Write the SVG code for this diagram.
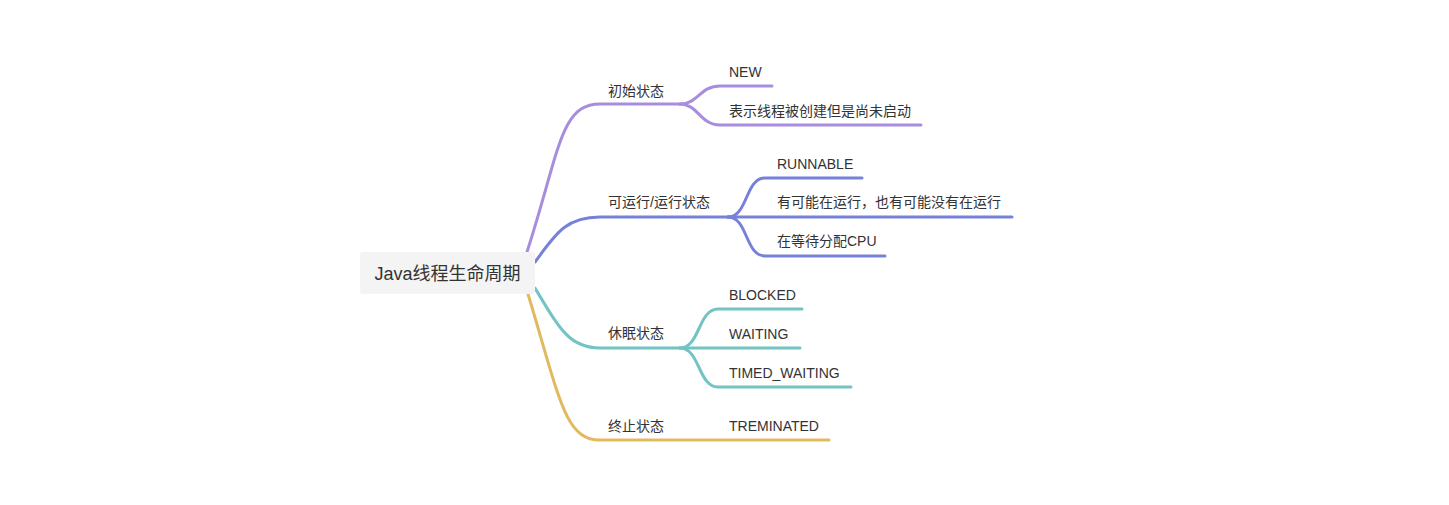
<svg xmlns="http://www.w3.org/2000/svg" width="1449" height="505" viewBox="0 0 1449 505">
<style>
text{font-family:"Liberation Sans","Noto Sans CJK SC",sans-serif;font-size:14px;fill:#333}
.root{font-size:18px}
path{fill:none;stroke-width:3;stroke-linecap:round}
.p{stroke:#a88ddf}
.b{stroke:#7781d9}
.t{stroke:#72c4c4}
.g{stroke:#e1b95f}
</style>
<rect width="1449" height="505" fill="#fff"/>
<g id="connectors">
<path class="p" d="M527 252 C560 150 560 104 600 104 L680 104"/>
<path class="p" d="M680 104 C698 104 700 86 720 86 L772 86"/>
<path class="p" d="M680 104 C698 104 700 125 720 125 L921 125"/>
<path class="b" d="M535 262 C555 235 565 217 600 217 L730 217"/>
<path class="b" d="M728 217 C748 217 745 178 765 178 L862 178"/>
<path class="b" d="M728 217 L1012 217"/>
<path class="b" d="M728 217 C748 217 745 256 765 256 L885 256"/>
<path class="t" d="M535 288 C560 330 570 348 600 348 L680 348"/>
<path class="t" d="M680 348 C700 348 698 309 718 309 L802 309"/>
<path class="t" d="M680 348 L800 348"/>
<path class="t" d="M680 348 C700 348 698 387 718 387 L851 387"/>
<path class="g" d="M528 294 C560 400 565 440 600 440 L829 440"/>
</g>
<g id="root"><rect x="360" y="252" width="175" height="42" rx="3" fill="#f4f4f4"/><text class="root" x="447.5" y="280" text-anchor="middle">Java线程生命周期</text></g>
<g id="n-init"><text x="608" y="96">初始状态</text></g>
<g id="n-new"><text x="729" y="77">NEW</text></g>
<g id="n-new-desc"><text x="729" y="116">表示线程被创建但是尚未启动</text></g>
<g id="n-run"><text x="608" y="207">可运行/运行状态</text></g>
<g id="n-runnable"><text x="777" y="169">RUNNABLE</text></g>
<g id="n-run-desc"><text x="777" y="207">有可能在运行，也有可能没有在运行</text></g>
<g id="n-cpu"><text x="777" y="246">在等待分配CPU</text></g>
<g id="n-sleep"><text x="608" y="338">休眠状态</text></g>
<g id="n-blocked"><text x="729" y="300">BLOCKED</text></g>
<g id="n-waiting"><text x="729" y="339">WAITING</text></g>
<g id="n-timed"><text x="729" y="378">TIMED_WAITING</text></g>
<g id="n-term"><text x="608" y="431">终止状态</text></g>
<g id="n-terminated"><text x="729" y="431">TREMINATED</text></g>
</svg>
